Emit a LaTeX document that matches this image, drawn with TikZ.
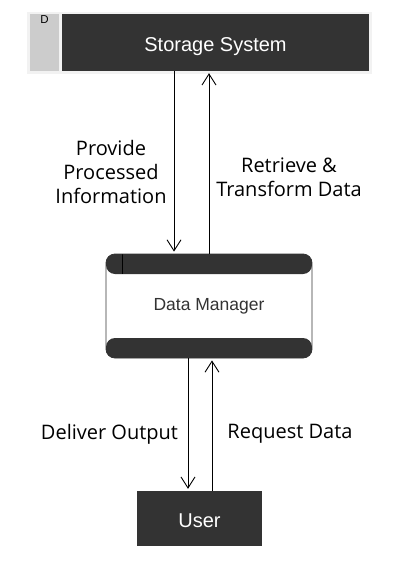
\documentclass[tikz,border=0pt]{standalone}
\usepackage{fontspec}
\setmainfont{Open Sans}
\newfontfamily\boxfont{Liberation Sans}
\usepackage{tikz}
\usetikzlibrary{positioning, calc, arrows.meta}
\definecolor{boxdark}{HTML}{333333}
\definecolor{boxgray}{HTML}{CCCCCC}
\definecolor{boxframe}{HTML}{F2F2F2}
\tikzset{
    darkbox/.style={rectangle, fill=boxdark, text=white, font=\boxfont\fontsize{20}{22}\selectfont, inner sep=0pt, text height=17pt, text depth=0pt},
    flowlabel/.style={align=center, font=\fontsize{20}{24}\selectfont, text=black},
    flow/.style={draw=black, line width=0.9pt, -{Straight Barb[length=11pt, width=14pt, line width=0.9pt]}, shorten >=2pt}
}

\begin{document}
\begin{tikzpicture}[x=1pt, y=-1pt]
        \useasboundingbox (0,0) rectangle (402,562);
        % storage system
        \node [rectangle, fill=boxframe, minimum width=345pt, minimum height=62pt, inner sep=0pt] (storeframe) at (199.5,43) {};
        \node [rectangle, fill=boxgray, minimum width=29pt, minimum height=57pt, inner sep=0pt] (storeid) at (44.5,42.5) {};
        \node [font=\boxfont\fontsize{11.5}{13}\selectfont, inner sep=0pt] (storeletter) at (44.5,20) {D};
        \node [darkbox, minimum width=307pt, minimum height=57pt] (storage) at (215.5,42.5) {Storage System};
        % data manager
        \node [rectangle, rounded corners=9pt, draw=boxdark, fill=white, line width=0.8pt,
               minimum width=206pt, minimum height=104pt, inner sep=0pt,
               text=boxdark, font=\boxfont\fontsize{17.5}{20}\selectfont,
               path picture={
                   \fill [boxdark] (path picture bounding box.north west) rectangle ([yshift=-20pt]path picture bounding box.north east);
                   \fill [boxdark] ([yshift=20pt]path picture bounding box.south west) rectangle (path picture bounding box.south east);
                   \draw [black, line width=0.8pt] ([xshift=16pt]path picture bounding box.north west) -- ([xshift=16pt, yshift=-20pt]path picture bounding box.north west);
               }] (manager) at (209,306) {Data Manager};
        % user
        \node [darkbox, minimum width=125pt, minimum height=55pt] (user) at (199.5,518.5) {User};
        % flows
        \draw [flow] ([xshift=-41.5pt]storage.south) -- ([xshift=-35pt]manager.north);
        \draw [flow] (manager.north) -- ([xshift=-6.5pt]storage.south);
        \draw [flow] ([xshift=-21pt]manager.south) -- ([xshift=-11.5pt]user.north);
        \draw [flow] ([xshift=12.5pt]user.north) -- ([xshift=3pt]manager.south);
        % labels
        \node [flowlabel] (provide) at (111,172) {Provide\\Processed\\Information};
        \node [flowlabel] (retrieve) at (289,177.5) {Retrieve \&\\Transform Data};
        \node [flowlabel] (deliver) at (109.5,434) {Deliver Output};
        \node [flowlabel] (request) at (290,434) {Request Data};
    \end{tikzpicture}
\end{document}
